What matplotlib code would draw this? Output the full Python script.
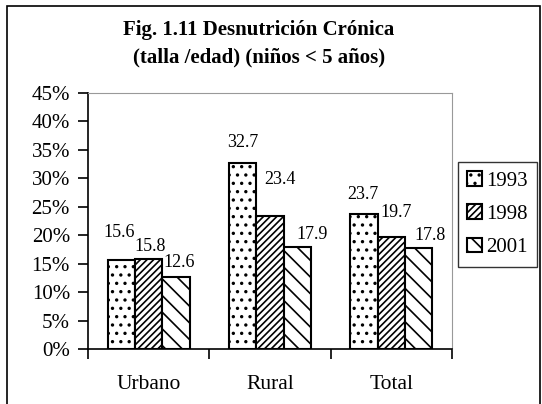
import matplotlib.pyplot as plt
import matplotlib.patches as mpatches
import numpy as np

categories = ['Urbano', 'Rural', 'Total']
years = ['1993', '1998', '2001']
v1993 = [15.6, 32.7, 23.7]
v1998 = [15.8, 23.4, 19.7]
v2001 = [12.6, 17.9, 17.8]

plt.rcParams['font.family'] = 'Liberation Serif'
plt.rcParams['hatch.linewidth'] = 1.2

fig = plt.figure(figsize=(5.42, 4.04), dpi=100)
ax = fig.add_axes([88 / 542, 1 - 349 / 404, 364 / 542, 256 / 404])

x = np.arange(len(categories))
w = 0.225
series = [v1993, v1998, v2001]
hatches = ['..', '/////', '\\\\']
# label offsets (points) from top of each bar, per series / category
dx = [[-1.5, 0, -1], [1, 7, 3.5], [2, 11, 8.5]]
dy = [[14, 8.5, 8], [3, 20, 11.5], [4.5, 3, 3]]

for i, vals in enumerate(series):
    pos = x + (i - 1) * w
    ax.bar(pos, vals, w, color='white', edgecolor='black', hatch=hatches[i],
           linewidth=1.5, label=years[i], zorder=2)
    for j, v in enumerate(vals):
        ax.annotate('%.1f' % v, (pos[j], v), xytext=(dx[i][j], dy[i][j]),
                    textcoords='offset points', ha='center', va='bottom',
                    fontsize=13)

ax.set_xlim(-0.5, 2.5)
ax.set_ylim(0, 45)
ax.set_yticks(range(0, 50, 5))
ax.set_yticklabels(['%d%%' % t for t in range(0, 50, 5)], fontsize=15)
ax.set_xticks([-0.5, 0.5, 1.5, 2.5])
ax.set_xticklabels([])
ax.set_xticks(x, minor=True)
ax.set_xticklabels(categories, minor=True, fontsize=15.5)
ax.tick_params(axis='x', which='minor', length=0, pad=19)
ax.tick_params(axis='x', which='major', length=7, width=1.2, direction='out')
ax.tick_params(axis='y', length=7, width=1.2, direction='out', pad=6)
for s in ['top', 'right']:
    ax.spines[s].set_color('#999999')
for s in ['left', 'bottom']:
    ax.spines[s].set_linewidth(1.2)

fig.text(259 / 542, 1 - 30 / 404, 'Fig. 1.11 Desnutrición Crónica',
         ha='center', va='center', fontsize=15, fontweight='bold')
fig.text(259 / 542, 1 - 57 / 404, '(talla /edad) (niños < 5 años)',
         ha='center', va='center', fontsize=15, fontweight='bold')

leg = ax.legend(loc='upper left', bbox_to_anchor=(458 / 542, 1 - 162 / 404),
                bbox_transform=fig.transFigure, fontsize=15, frameon=True,
                fancybox=False, edgecolor='black', handlelength=0.7,
                handleheight=0.7, handletextpad=0.2, borderpad=0.45,
                labelspacing=0.65, borderaxespad=0)
leg.get_frame().set_linewidth(1.0)

border = mpatches.Rectangle((7 / 542, -0.05), 533 / 542, 1.05 - 6 / 404,
                            transform=fig.transFigure, fill=False,
                            edgecolor='black', linewidth=1.2)
fig.patches.append(border)

fig.savefig('out.png', dpi=100)
